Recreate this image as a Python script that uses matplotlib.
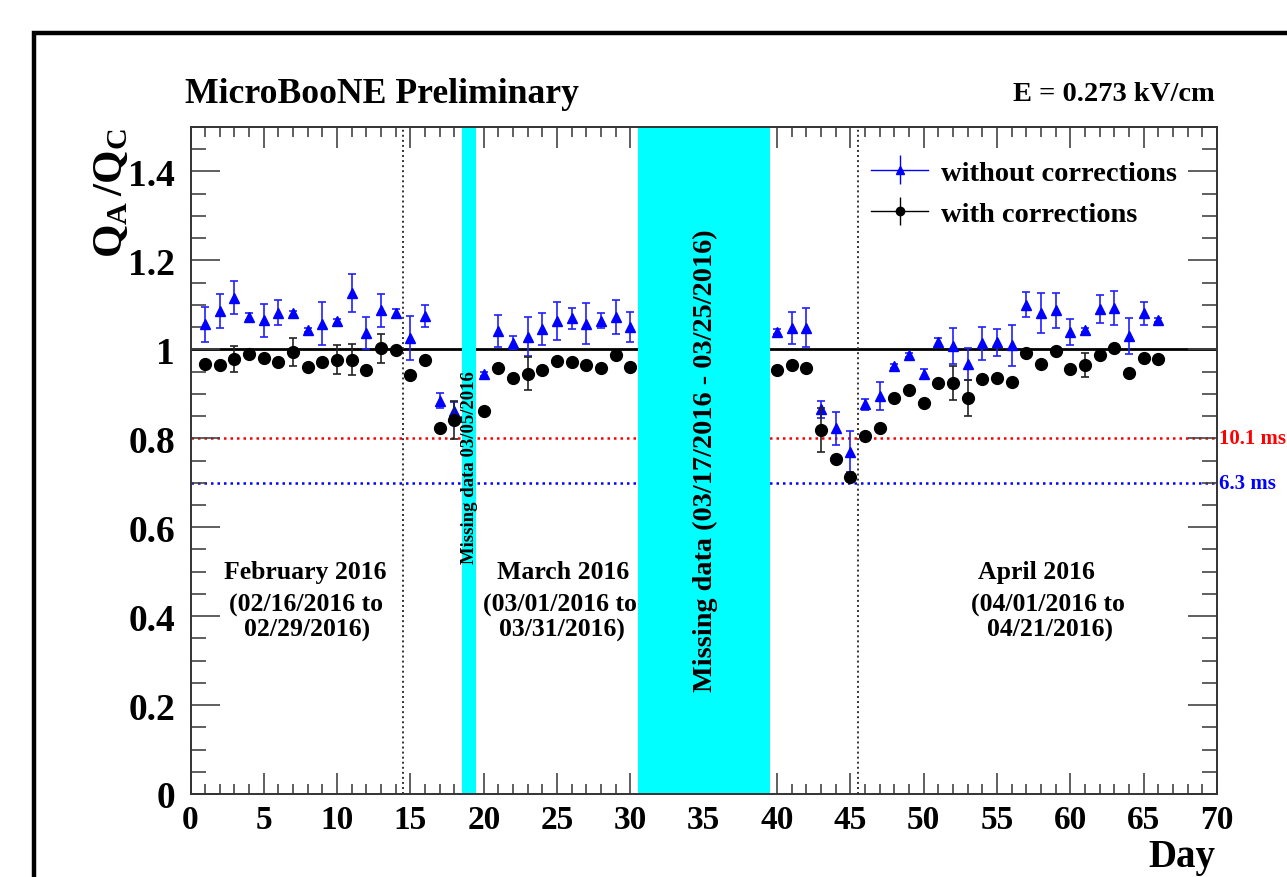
import matplotlib
matplotlib.use("Agg")
import matplotlib.pyplot as plt
from matplotlib.patches import Rectangle
from matplotlib.ticker import MultipleLocator
import numpy as np

plt.rcParams['font.family'] = ['Liberation Serif', 'DejaVu Serif']
plt.rcParams['font.weight'] = 'bold'
plt.rcParams['mathtext.fontset'] = 'custom'
plt.rcParams['mathtext.rm'] = 'Liberation Serif:bold'
plt.rcParams['mathtext.bf'] = 'Liberation Serif:bold'
plt.rcParams['mathtext.it'] = 'Liberation Serif:bold'

# ---------------- data ----------------
days = [1, 2, 3, 4, 5, 6, 7, 8, 9, 10, 11, 12, 13, 14, 15, 16, 17, 18,
        20, 21, 22, 23, 24, 25, 26, 27, 28, 29, 30,
        40, 41, 42, 43, 44, 45, 46, 47, 48, 49, 50, 51, 52, 53, 54, 55, 56,
        57, 58, 59, 60, 61, 62, 63, 64, 65, 66]

without_corr = [1.056, 1.086, 1.116, 1.073, 1.065, 1.082, 1.081, 1.043, 1.058, 1.063,
                1.127, 1.037, 1.088, 1.081, 1.026, 1.075, 0.884, 0.861,
                0.945, 1.041, 1.015, 1.028, 1.045, 1.064, 1.070, 1.058, 1.064, 1.073, 1.050,
                1.040, 1.049, 1.049, 0.865, 0.822, 0.770, 0.876, 0.895, 0.962, 0.987,
                0.945, 1.017, 1.007, 0.966, 1.014, 1.016, 1.009, 1.100, 1.081, 1.088,
                1.039, 1.043, 1.091, 1.093, 1.030, 1.081, 1.066]
without_err = [0.040, 0.039, 0.037, 0.008, 0.037, 0.028, 0.005, 0.005, 0.048, 0.006,
               0.043, 0.036, 0.037, 0.010, 0.049, 0.025, 0.017, 0.021,
               0.005, 0.036, 0.015, 0.044, 0.036, 0.043, 0.024, 0.047, 0.017, 0.038, 0.034,
               0.005, 0.036, 0.043, 0.019, 0.038, 0.046, 0.012, 0.031, 0.005, 0.005,
               0.010, 0.009, 0.040, 0.036, 0.037, 0.030, 0.046, 0.028, 0.045, 0.039,
               0.029, 0.005, 0.031, 0.039, 0.040, 0.026, 0.005]

with_corr = [0.968, 0.965, 0.978, 0.989, 0.981, 0.972, 0.994, 0.961, 0.971, 0.977,
             0.977, 0.953, 1.002, 0.998, 0.942, 0.975, 0.824, 0.841,
             0.861, 0.959, 0.936, 0.945, 0.953, 0.974, 0.971, 0.965, 0.959, 0.987, 0.960,
             0.953, 0.964, 0.959, 0.818, 0.754, 0.714, 0.805, 0.824, 0.891, 0.908,
             0.880, 0.925, 0.924, 0.891, 0.933, 0.936, 0.927, 0.991, 0.968, 0.996,
             0.955, 0.964, 0.987, 1.004, 0.947, 0.981, 0.978]
with_err = [0.005, 0.005, 0.029, 0.005, 0.005, 0.005, 0.032, 0.005, 0.005, 0.033,
            0.035, 0.005, 0.032, 0.005, 0.005, 0.005, 0.005, 0.043,
            0.005, 0.005, 0.005, 0.037, 0.005, 0.005, 0.005, 0.005, 0.005, 0.005, 0.005,
            0.005, 0.005, 0.005, 0.050, 0.005, 0.005, 0.005, 0.005, 0.005, 0.005,
            0.005, 0.005, 0.038, 0.041, 0.005, 0.005, 0.005, 0.005, 0.005, 0.005,
            0.005, 0.027, 0.005, 0.005, 0.005, 0.005, 0.005]

missing_bands = [(18.5, 19.5), (30.5, 39.5)]
month_dividers = [14.5, 45.5]
lifetime_levels = [0.8, 0.7]
lifetime_labels = ['10.1 ms', '6.3 ms']
lifetime_colors = ['#ff0000', '#0000ff']

month_titles = ['February 2016', 'March 2016', 'April 2016']
month_ranges = [('(02/16/2016 to', '02/29/2016)'),
                ('(03/01/2016 to', '03/31/2016)'),
                ('(04/01/2016 to', '04/21/2016)')]
month_x = [(7.85, 7.9, 7.95), (25.4, 25.2, 25.3), (57.7, 58.5, 58.6)]

x_ticks = list(range(0, 71, 5))
y_ticks = [0, 0.2, 0.4, 0.6, 0.8, 1.0, 1.2, 1.4]
y_tick_labels = ['0', '0.2', '0.4', '0.6', '0.8', '1', '1.2', '1.4']

# ---------------- figure ----------------
fig = plt.figure(figsize=(12.87, 8.78), dpi=100)
ax = fig.add_axes([190.5 / 1287, 83 / 878, (1217 - 190.5) / 1287, (795 - 128) / 878])
ax.set_xlim(0, 70)
ax.set_ylim(0, 1.5)

# outer canvas frame
fig.patches.append(Rectangle((34 / 1287, -0.2), 2.0, (878 - 34) / 878 + 0.2,
                             transform=fig.transFigure, fill=False,
                             edgecolor='black', linewidth=3.2, zorder=0))

# reference lines
ax.axhline(1.0, color='black', lw=2.0, zorder=1)
for lvl, col in zip(lifetime_levels, lifetime_colors):
    ax.axhline(lvl, color=col, lw=1.8, ls=(0, (1, 1.6)), zorder=1)
for xd in month_dividers:
    ax.axvline(xd, color='#333333', lw=1.4, ls=(0, (1, 1.6)), zorder=1)

# missing data bands
for a, b in missing_bands:
    ax.axvspan(a, b, color='#00ffff', lw=0, zorder=2)

# data
ax.errorbar(days, without_corr, yerr=without_err, fmt='^', color='#0000ff',
            ms=7.5, ecolor='#2020ff', elinewidth=1.2, capsize=3, capthick=1.2, zorder=4)
ax.errorbar(days, with_corr, yerr=with_err, fmt='o', color='black',
            ms=8.5, ecolor='#222222', elinewidth=1.2, capsize=3, capthick=1.2, zorder=5)

# legend proxies
h1 = ax.errorbar([], [], yerr=[], fmt='^-', color='#0000ff', ms=6, lw=1.0,
                 elinewidth=1.0, capsize=0)
h2 = ax.errorbar([], [], yerr=[], fmt='o-', color='black', ms=6, lw=1.0,
                 elinewidth=1.0, capsize=0)
leg = ax.legend([h1, h2], ['without corrections', 'with corrections'],
                loc='upper left', bbox_to_anchor=(0.663, 0.951), frameon=False,
                fontsize=20.5, handlelength=2.0, handletextpad=0.45, labelspacing=0.55,
                borderaxespad=0, borderpad=0)

# ticks
ax.set_xticks(x_ticks)
ax.set_xticklabels([str(t) for t in x_ticks])
ax.set_yticks(y_ticks)
ax.set_yticklabels(y_tick_labels)
ax.xaxis.set_minor_locator(MultipleLocator(1))
ax.yaxis.set_minor_locator(MultipleLocator(0.05))
ax.tick_params(axis='both', which='both', direction='in', top=True, right=True,
               color='#444444', width=1.2)
ax.tick_params(axis='x', which='major', length=15, labelsize=24, pad=7)
ax.tick_params(axis='x', which='minor', length=7.5)
ax.tick_params(axis='y', which='major', length=21, labelsize=27, pad=11)
ax.tick_params(axis='y', which='minor', length=11)
for sp in ax.spines.values():
    sp.set_linewidth(1.4)
    sp.set_color('#333333')

# month annotations
for title, (l2, l3), (x1, x2, x3) in zip(month_titles, month_ranges, month_x):
    ax.text(x1, 0.501, title, ha='center', va='center', fontsize=18.5, fontweight='bold')
    ax.text(x2, 0.427, l2, ha='center', va='center', fontsize=18.5, fontweight='bold')
    ax.text(x3, 0.371, l3, ha='center', va='center', fontsize=18.5, fontweight='bold')

ax.text(19.0, 0.737, 'Missing data 03/05/2016', rotation=90, ha='center', va='center',
        fontsize=13.5, fontweight='bold', zorder=6)
ax.text(35.1, 0.752, 'Missing data (03/17/2016 - 03/25/2016)', rotation=90,
        ha='center', va='center', fontsize=20.3, fontweight='bold', zorder=6)

for lvl, lab, col in zip(lifetime_levels, lifetime_labels, lifetime_colors):
    ax.text(70.15, lvl, lab, color=col, ha='left', va='center',
            fontsize=15, fontweight='bold', clip_on=False)

# titles / labels
fig.text(185 / 1287, (878 - 95) / 878, 'MicroBooNE Preliminary', ha='left', va='center',
         fontsize=25.7, fontweight='bold')
fig.text(1215 / 1287, (878 - 95) / 878, 'E = 0.273 kV/cm', ha='right', va='center',
         fontsize=20.5, fontweight='bold')
fig.text(112 / 1287, (878 - 128) / 878, r'$\mathbf{Q_{A}\,/Q_{C}}$',
         rotation=90, ha='center', va='top', fontsize=31)
fig.text(1215 / 1287, (878 - 858) / 878, 'Day', ha='right', va='center',
         fontsize=28, fontweight='bold')

fig.savefig('out.png', dpi=100)
